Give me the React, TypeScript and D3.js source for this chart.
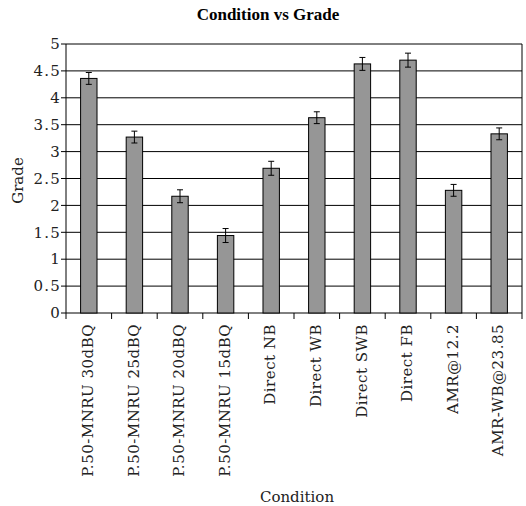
import * as d3 from 'd3';

const categories = [
  'P.50-MNRU 30dBQ',
  'P.50-MNRU 25dBQ',
  'P.50-MNRU 20dBQ',
  'P.50-MNRU 15dBQ',
  'Direct NB',
  'Direct WB',
  'Direct SWB',
  'Direct FB',
  'AMR@12.2',
  'AMR-WB@23.85',
];
const grades = [4.36, 3.27, 2.17, 1.44, 2.69, 3.63, 4.63, 4.7, 2.28, 3.33];
const errors = [0.11, 0.11, 0.12, 0.13, 0.13, 0.11, 0.12, 0.13, 0.11, 0.11];
const yTicks = [0, 0.5, 1, 1.5, 2, 2.5, 3, 3.5, 4, 4.5, 5];

const W = 526;
const H = 506;
const margin = { top: 44, right: 4, bottom: 193, left: 66 };
const font = '"DejaVu Serif", serif';

export default function App() {
  const x = d3.scaleBand<string>()
    .domain(categories)
    .range([margin.left, W - margin.right])
    .paddingInner(0)
    .paddingOuter(0);
  const y = d3.scaleLinear()
    .domain([0, 5])
    .range([H - margin.bottom, margin.top]);

  const bw = x.bandwidth();
  const barW = bw * 0.36;
  const y0 = y(0);
  const plotMid = (margin.left + W - margin.right) / 2;

  return (
    <svg width={W} height={H} style={{ position: 'absolute', left: 0, top: 0, background: '#fff' }}>
      <text x={268} y={20} textAnchor="middle" fontFamily='"Liberation Serif", serif'
        fontWeight="bold" fontSize={17}>Condition vs Grade</text>

      {/* gridlines */}
      {yTicks.map(t => (
        <line key={t} x1={margin.left - 5} x2={W - margin.right} y1={y(t)} y2={y(t)}
          stroke="#000" strokeWidth={1} />
      ))}
      <line x1={W - margin.right} x2={W - margin.right} y1={y(5)} y2={y0} stroke="#000" />
      <line x1={margin.left} x2={margin.left} y1={y(5)} y2={y0} stroke="#000" />

      {yTicks.map(t => (
        <text key={t} x={margin.left - 5} y={y(t)} dy="0.35em" textAnchor="end"
          fontFamily={font} fontSize={15} letterSpacing={1.2} fill="#222">{t}</text>
      ))}

      {/* bars */}
      {categories.map((c, i) => {
        const cx = (x(c) as number) + bw / 2;
        const e = errors[i];
        return (
          <g key={c}>
            <rect x={cx - barW / 2} y={y(grades[i])} width={barW} height={y0 - y(grades[i])}
              fill="#969696" stroke="#000" strokeWidth={1} />
            <line x1={cx} x2={cx} y1={y(grades[i] + e)} y2={y(grades[i] - e)} stroke="#000" />
            <line x1={cx - 3} x2={cx + 3} y1={y(grades[i] + e)} y2={y(grades[i] + e)} stroke="#000" />
            <line x1={cx - 3} x2={cx + 3} y1={y(grades[i] - e)} y2={y(grades[i] - e)} stroke="#000" />
          </g>
        );
      })}

      {/* x axis ticks */}
      {categories.concat(['']).map((c, i) => {
        const tx = c ? (x(c) as number) : W - margin.right;
        return <line key={i} x1={tx} x2={tx} y1={y0} y2={y0 + 6} stroke="#000" />;
      })}

      {categories.map(c => {
        const cx = (x(c) as number) + bw / 2;
        return (
          <text key={c} transform={`translate(${cx - 1},${y0 + 11}) rotate(-90)`} dy="0.35em"
            textAnchor="end" fontFamily={font} fontSize={15} letterSpacing={0.5} fill="#222">{c}</text>
        );
      })}

      <text x={plotMid + 3} y={H - 4} textAnchor="middle" fontFamily={font} fontSize={15}
        fill="#222">Condition</text>
      <text transform={`translate(23,${(y(5) + y0) / 2 + 2}) rotate(-90)`} textAnchor="middle"
        fontFamily={font} fontSize={15} fill="#222">Grade</text>
    </svg>
  );
}
